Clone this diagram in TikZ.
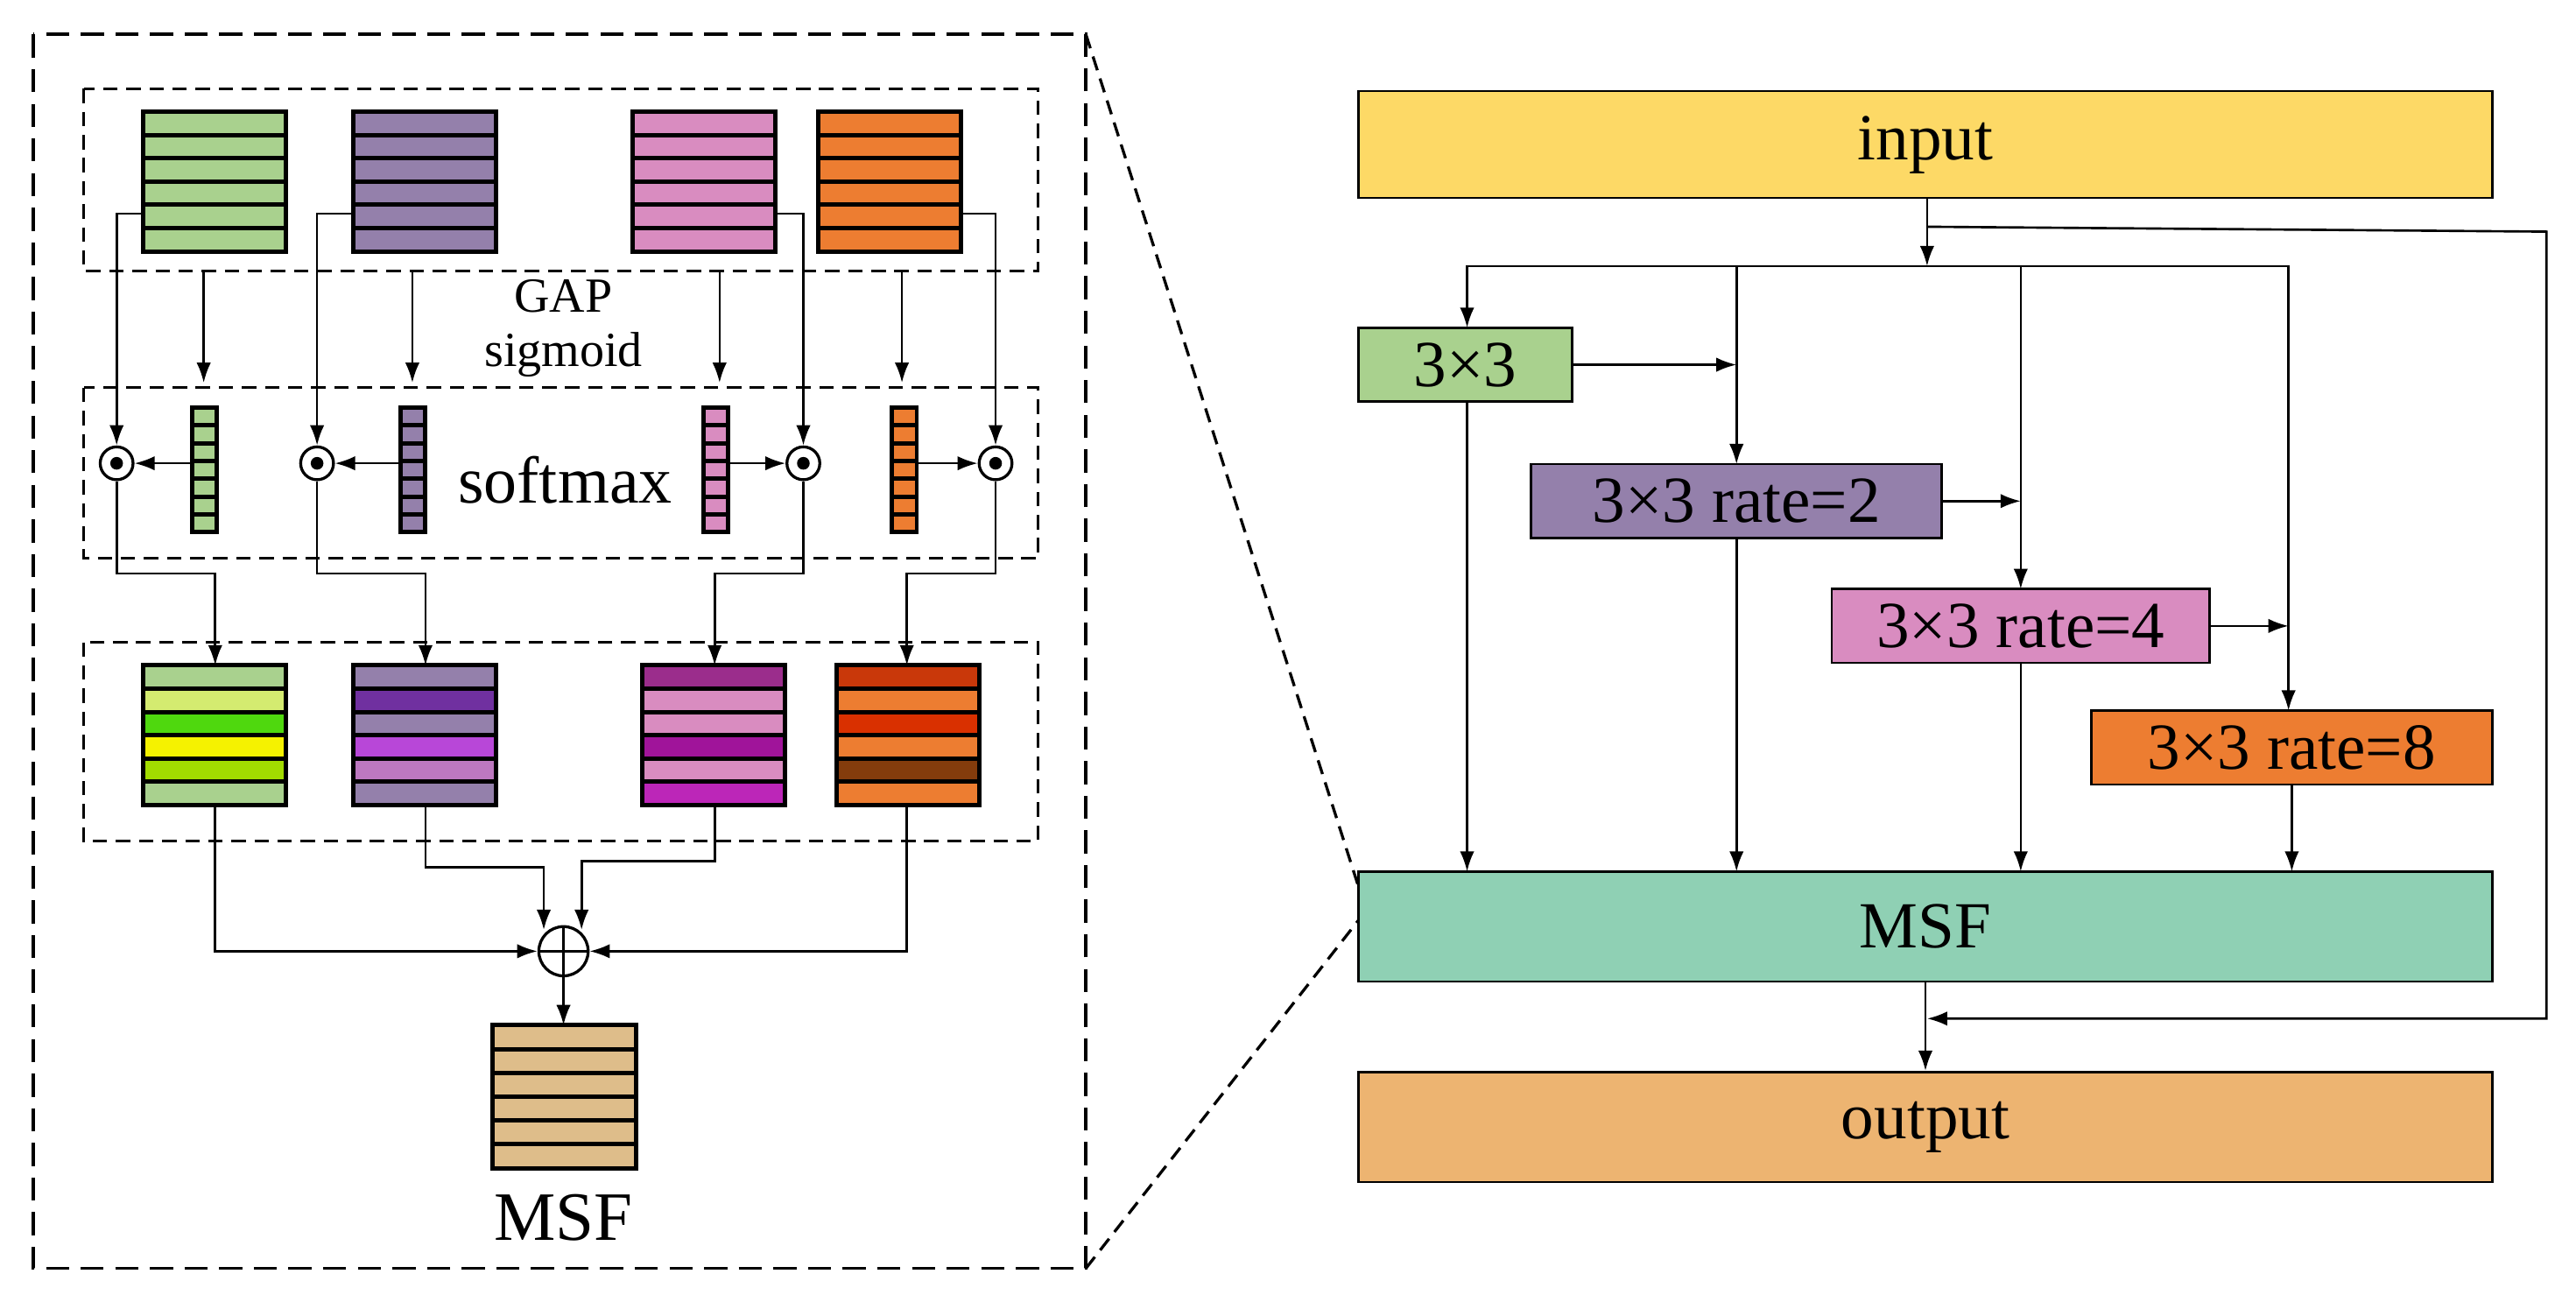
\documentclass[tikz,border=0pt]{standalone}
\usepackage{fontspec}
\setmainfont{Liberation Serif}
\usetikzlibrary{arrows.meta}
\definecolor{cin}{HTML}{FDD966}
\definecolor{cgr}{HTML}{A9D18E}
\definecolor{cpu}{HTML}{9480AB}
\definecolor{cpk}{HTML}{D98CC0}
\definecolor{cor}{HTML}{ED7D31}
\definecolor{cmsf}{HTML}{8FD0B4}
\definecolor{cout}{HTML}{EDB471}
\definecolor{ctan}{HTML}{DEBD8A}
\definecolor{g2}{HTML}{D4EB70}\definecolor{g3}{HTML}{4FD80E}\definecolor{g4}{HTML}{F5F200}\definecolor{g5}{HTML}{A2DC00}
\definecolor{p2}{HTML}{7030A0}\definecolor{p4}{HTML}{B847D8}\definecolor{p5}{HTML}{BD78C0}
\definecolor{m1}{HTML}{9B2D8C}\definecolor{m4}{HTML}{A0149A}\definecolor{m6}{HTML}{BC26B8}
\definecolor{o1}{HTML}{C9380A}\definecolor{o3}{HTML}{D93000}\definecolor{o5}{HTML}{843C0C}
\newcommand\fmap[5]{% name, left, top, height, colours
  \foreach \c [count=\i] in {#5} {\fill[\c] (#2,{#3+(\i-1)*#4/6}) rectangle ++(87,#4/6);}
  \draw[map] (#2,#3) rectangle ++(87,#4);
  \foreach \i in {1,...,5} \draw[map] (#2,{#3+\i*#4/6}) -- ++(87,0);
  \coordinate (#1) at ({#2+43.5},{#3+#4/2});}
\newcommand\fvec[3]{% name, left, colour
  \fill[#3] (#2,248) rectangle ++(15,76);
  \draw[map] (#2,248) rectangle ++(15,76);
  \foreach \i in {1,...,6} \draw[map] (#2,{248+\i*76/7}) -- ++(15,0);
  \coordinate (#1) at ({#2+7.5},282);}
\begin{document}
\begin{tikzpicture}[x=0.02cm,y=-0.02cm,
  map/.style={line width=1.5pt},
  ln/.style={line width=0.8pt},
  ar/.style={ln,-{Latex[length=7pt,width=5pt]}},
  dsh/.style={line width=0.9pt,dash pattern=on 5pt off 3pt},
  odot/.style={circle,draw,line width=1pt,minimum size=20*0.02cm,inner sep=0pt},
  box/.style={draw,line width=0.8pt,inner sep=0pt,font=\fontsize{22.8}{24}\selectfont},
  every node/.style={font=\fontsize{22.8}{24}\selectfont}]
\useasboundingbox (0,0) rectangle (1568,792);
% ---------- left panel
\draw[dsh,line width=1.2pt,dash pattern=on 8pt off 4pt] (20,21) rectangle (661,772);
\draw[dsh] (51,54) rectangle (632,165);
\draw[dsh] (51,236) rectangle (632,340);
\draw[dsh] (51,391) rectangle (632,512);
\fmap{t1}{87}{68}{85}{cgr,cgr,cgr,cgr,cgr,cgr}
\fmap{t2}{215}{68}{85}{cpu,cpu,cpu,cpu,cpu,cpu}
\fmap{t3}{385}{68}{85}{cpk,cpk,cpk,cpk,cpk,cpk}
\fmap{t4}{498}{68}{85}{cor,cor,cor,cor,cor,cor}
\node[font=\fontsize{17}{18}\selectfont] (gap) at (343,180) {GAP};
\node[font=\fontsize{17}{18}\selectfont] (sig) at (343,216) {sigmoid};
\node[font=\fontsize{23}{24}\selectfont] (soft) at (344,292) {softmax};
\fvec{v1}{117}{cgr}
\fvec{v2}{244}{cpu}
\fvec{v3}{428}{cpk}
\fvec{v4}{543}{cor}
\node[odot] (o1) at (71,282) {}; \fill (o1) circle (2.2pt);
\node[odot] (o2) at (193,282) {}; \fill (o2) circle (2.2pt);
\node[odot] (o3) at (489,282) {}; \fill (o3) circle (2.2pt);
\node[odot] (o4) at (606,282) {}; \fill (o4) circle (2.2pt);
% GAP arrows
\foreach \x in {124,251,438,549} \draw[ar] (\x,165) -- (\x,233);
% skip lines into odot
\draw[ar] (87,130) -| (o1.north);
\draw[ar] (215,130) -| (o2.north);
\draw[ar] (472,130) -| (o3.north);
\draw[ar] (585,130) -| (o4.north);
\draw[ar] (117,282) -- (o1.east);
\draw[ar] (244,282) -- (o2.east);
\draw[ar] (443,282) -- (o3.west);
\draw[ar] (558,282) -- (o4.west);
\fmap{b1}{87}{405}{85}{cgr,g2,g3,g4,g5,cgr}
\fmap{b2}{215}{405}{85}{cpu,p2,cpu,p4,p5,cpu}
\fmap{b3}{391}{405}{85}{m1,cpk,cpk,m4,cpk,m6}
\fmap{b4}{509}{405}{85}{o1,cor,o3,cor,o5,cor}
\draw[ar] (o1.south) |- (131,349) -- (131,405);
\draw[ar] (o2.south) |- (259,349) -- (259,405);
\draw[ar] (o3.south) |- (435,349) -- (435,405);
\draw[ar] (o4.south) |- (552,349) -- (552,405);
\node[circle,draw,line width=1pt,minimum size=30*0.02cm,inner sep=0pt] (plus) at (343,579) {};
\draw[line width=1pt] (plus.north) -- (plus.south) (plus.west) -- (plus.east);
\fmap{msfm}{300}{624}{87}{ctan,ctan,ctan,ctan,ctan,ctan}
\draw[ar] (131,490) |- (plus.west);
\draw[ar] (552,490) |- (plus.east);
\draw[ar] (259,490) |- (331,528) -- (331,566);
\draw[ar] (435,490) |- (354,524) -- (354,566);
\draw[ar] (plus.south) -- (343,624);
\node[font=\fontsize{24}{25}\selectfont] (msfl) at (343,741) {MSF};
% ---------- right panel
\node[box,fill=cin,minimum width=690*0.02cm,minimum height=65*0.02cm] (in) at (1172,88) {input};
\node[box,fill=cgr,minimum width=130*0.02cm,minimum height=45*0.02cm] (c1) at (892,222) {3×3};
\node[box,fill=cpu,minimum width=250*0.02cm,minimum height=45*0.02cm] (c2) at (1057,305) {3×3 rate=2};
\node[box,fill=cpk,minimum width=230*0.02cm,minimum height=45*0.02cm] (c4) at (1230,381) {3×3 rate=4};
\node[box,fill=cor,minimum width=244*0.02cm,minimum height=45*0.02cm] (c8) at (1395,455) {3×3 rate=8};
\node[box,fill=cmsf,minimum width=690*0.02cm,minimum height=67*0.02cm] (msf) at (1172,564) {MSF};
\node[box,fill=cout,minimum width=690*0.02cm,minimum height=67*0.02cm] (out) at (1172,686) {output};
\coordinate (j) at (1173,162);
\draw[ar] (1173,120) -- (j);
\draw[ar] (j) -| (893,199.5);
\draw[ar] (j) -| (1057,282.5);
\draw[ar] (j) -| (1230,358.5);
\draw[ar] (j) -| (1393,432.5);
\draw[ar] (c1.east) -- (1057,222);
\draw[ar] (c2.east) -- (1230,305);
\draw[ar] (c4.east) -- (1393,381);
\draw[ar] (893,244.5) -- (893,530.5);
\draw[ar] (1057,327.5) -- (1057,530.5);
\draw[ar] (1230,403.5) -- (1230,530.5);
\draw[ar] (1395,477.5) -- (1395,530.5);
\draw[ar] (1173,138) -- (1550,141) -- (1550,620) -- (1173,620);
\draw[ar] (msf.south) -- (out.north);
% zoom lines
\draw[dsh,line width=1pt] (661,21) -- (827,540);
\draw[dsh,line width=1pt] (661,772) -- (827,560);
\end{tikzpicture}
\end{document}
